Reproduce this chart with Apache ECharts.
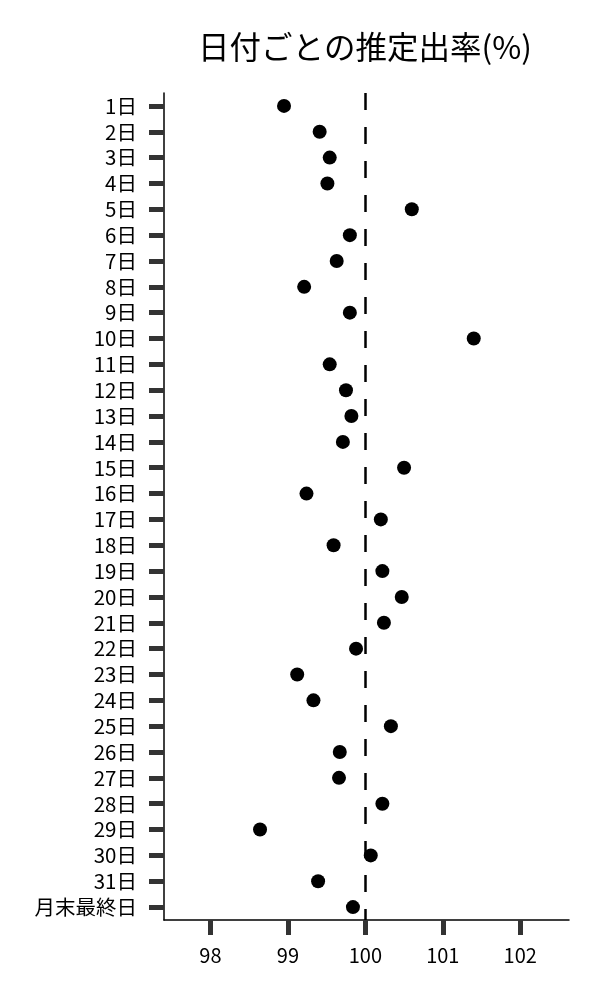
<!DOCTYPE html>
<html>
<head>
<meta charset="utf-8">
<script src="https://cdn.jsdelivr.net/npm/echarts@6/dist/echarts.min.js"></script>
<style>
html,body{margin:0;padding:0;background:#fff;}
#chart{width:600px;height:1000px;}
</style>
</head>
<body>
<div id="chart"></div>
<script>
const titleText = '日付ごとの推定出率(%)';
const categories = ['1日','2日','3日','4日','5日','6日','7日','8日','9日','10日',
  '11日','12日','13日','14日','15日','16日','17日','18日','19日','20日',
  '21日','22日','23日','24日','25日','26日','27日','28日','29日','30日','31日','月末最終日'];
const rates = [98.95, 99.41, 99.54, 99.51, 100.60, 99.80, 99.63, 99.21, 99.80, 101.40,
  99.54, 99.75, 99.82, 99.71, 100.50, 99.24, 100.20, 99.59, 100.22, 100.47,
  100.24, 99.88, 99.12, 99.33, 100.33, 99.67, 99.66, 100.22, 98.64, 100.07, 99.39, 99.84];
const xTicks = [98, 99, 100, 101, 102];
const referenceValue = 100;

const FONT = '"Noto Sans CJK JP", "Noto Sans", sans-serif';
const chart = echarts.init(document.getElementById('chart'), null, {renderer: 'canvas'});
chart.setOption({
  backgroundColor: '#ffffff',
  animation: false,
  title: {
    text: titleText,
    left: 193,
    top: 26,
    textStyle: {fontFamily: FONT, fontSize: 31.5, fontWeight: 'normal', color: '#000'}
  },
  grid: {left: 164, right: 31, top: 93, bottom: 80, containLabel: false},
  xAxis: {
    type: 'value',
    min: 97.40,
    max: 102.63,
    interval: 1,
    axisLine: {show: true, onZero: false, lineStyle: {color: '#000', width: 1.5}},
    axisTick: {show: true, length: 15, lineStyle: {color: '#333', width: 5},
      customValues: xTicks},
    axisLabel: {fontFamily: FONT, fontSize: 20, color: '#000', margin: 25,
      customValues: xTicks},
    splitLine: {show: false}
  },
  yAxis: {
    type: 'category',
    data: categories,
    inverse: true,
    boundaryGap: true,
    axisLine: {show: true, lineStyle: {color: '#000', width: 1.5}},
    axisTick: {show: true, alignWithLabel: true, length: 15, lineStyle: {color: '#333', width: 5}},
    axisLabel: {fontFamily: FONT, fontSize: 20.5, color: '#000', margin: 27, interval: 0},
    splitLine: {show: false}
  },
  series: [{
    type: 'scatter',
    data: rates.map((v, i) => [v, categories[i]]),
    symbol: 'circle',
    symbolSize: 14,
    itemStyle: {color: '#000', opacity: 1},
    markLine: {
      silent: true,
      symbol: ['none', 'none'],
      label: {show: false},
      lineStyle: {color: '#000', width: 2.5, type: [17, 17], dashOffset: 0, opacity: 1},
      data: [{xAxis: referenceValue}]
    }
  }]
});
</script>
</body>
</html>
